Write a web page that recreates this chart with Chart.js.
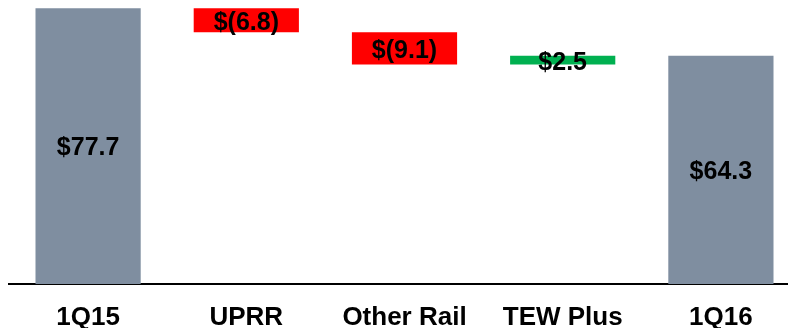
<!DOCTYPE html>
<html>
<head>
<meta charset="utf-8">
<script src="https://cdn.jsdelivr.net/npm/chart.js@4"></script>
<style>
  html, body { margin: 0; padding: 0; background: #fff; overflow: hidden; }
  #wrap { width: 800px; height: 328px; position: relative; }
</style>
</head>
<body>
<div id="wrap"><canvas id="bridge"></canvas></div>
<script>
// waterfall 1Q15 -> 1Q16
const categories = ['1Q15', 'UPRR', 'Other Rail', 'TEW Plus', '1Q16'];
const changes = [77.7, -6.8, -9.1, 2.5, 64.3];
const kinds = ['total', 'step', 'step', 'step', 'total'];
const valueLabels = ['$77.7', '$(6.8)', '$(9.1)', '$2.5', '$64.3'];

const grey = '#7f8ea0';
const red = '#ff0000';
const green = '#00b050';
const fontFam = '"Liberation Sans", Arial, sans-serif';

// build floating ranges
let running = 0;
const ranges = [];
const colors = [];
for (let i = 0; i < changes.length; i++) {
    if (kinds[i] == 'total') {
        running = changes[i];
        ranges.push([0, changes[i]]);
        colors.push(grey);
    } else {
        const start = running;
        running = running + changes[i];
        ranges.push([Math.min(start, running), Math.max(start, running)]);
        colors.push(changes[i] < 0 ? red : green);
    }
}

const barText = {
    id: 'barText',
    afterDatasetsDraw(chart) {
        const ctx = chart.ctx;
        const meta = chart.getDatasetMeta(0);
        ctx.save();
        ctx.font = 'bold 25px ' + fontFam;
        ctx.fillStyle = '#000';
        ctx.textAlign = 'center';
        ctx.textBaseline = 'middle';
        meta.data.forEach((bar, i) => {
            const mid = (bar.y + bar.base) / 2;
            ctx.fillText(valueLabels[i], bar.x, mid + 2.5);
        });
        ctx.restore();
    }
};

new Chart('bridge', {
    type: 'bar',
    data: {
        labels: categories,
        datasets: [{
            data: ranges,
            backgroundColor: colors,
            borderWidth: 0,
            categoryPercentage: 1,
            barPercentage: 0.665
        }]
    },
    options: {
        responsive: true,
        maintainAspectRatio: false,
        animation: false,
        layout: { padding: { left: 9, right: 0, top: 0, bottom: 0 } },
        plugins: {
            legend: { display: false },
            tooltip: { enabled: false }
        },
        scales: {
            x: {
                grid: { display: false, drawTicks: false },
                border: { display: true, color: '#000', width: 2 },
                ticks: {
                    color: '#000',
                    padding: 18,
                    font: { family: fontFam, size: 26, weight: 'bold' }
                },
                afterFit: (scale) => { scale.height = 44; }
            },
            y: {
                display: false,
                min: 0,
                max: 80
            }
        }
    },
    plugins: [barText]
});
</script>
</body>
</html>
